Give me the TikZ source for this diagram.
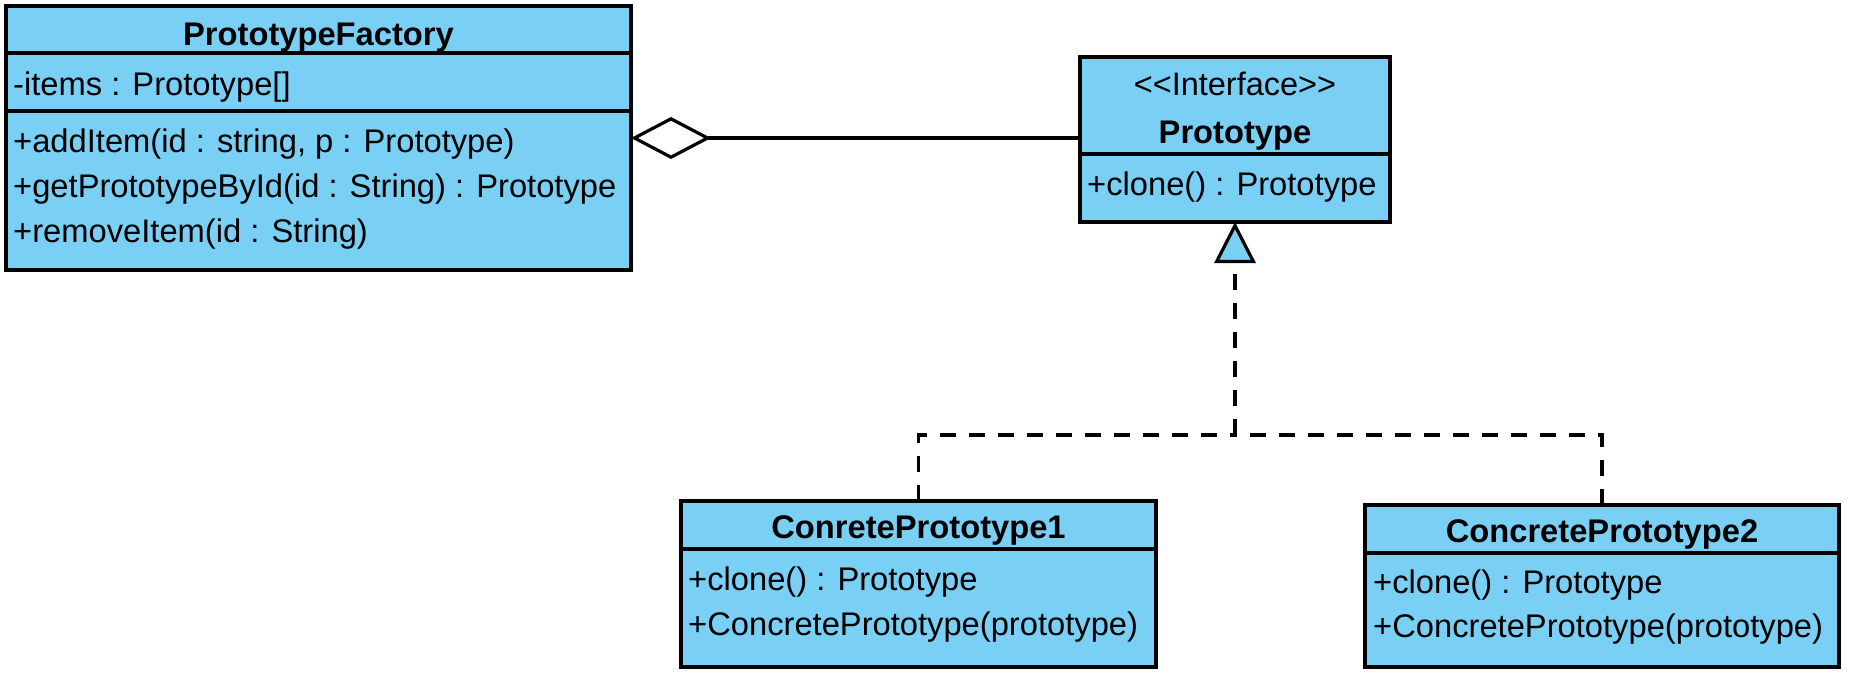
\documentclass[tikz,border=0pt]{standalone}
\usepackage{fontspec}
\setmainfont{Liberation Sans}
\usetikzlibrary{arrows.meta}
\definecolor{classblue}{RGB}{122,207,245}
\begin{document}
\begin{tikzpicture}[x=1pt,y=-1pt,
  classbox/.style={draw=black, fill=classblue, line width=3.2pt, inner sep=0pt, outer sep=0pt},
  sepline/.style={draw=black, line width=3.2pt},
  txt/.style={inner sep=0pt, anchor=base west, font=\fontsize{32.7}{40}\selectfont},
  ttl/.style={inner sep=0pt, anchor=base, font=\fontsize{32.7}{40}\selectfont\bfseries},
  stereo/.style={inner sep=0pt, anchor=base, font=\fontsize{32.5}{40}\selectfont},
  assoc/.style={draw=black, line width=3.2pt},
  dashline/.style={draw=black, line width=3.2pt, dash pattern=on 16pt off 13pt},
  realiz/.style={dashline, -{Triangle[length=41pt,width=41pt,fill=classblue]}}
]
\useasboundingbox (0,0) rectangle (1851,678);

% PrototypeFactory
\node[classbox, minimum width=625pt, minimum height=264pt] (pf) at (318.5,138) {};
\draw[sepline] (6,53) -- (631,53);
\draw[sepline] (6,111) -- (631,111);
\node[ttl] (pft) at (318.5,45) {PrototypeFactory};
\node[txt] (pfa) at (13,95) {-items : Prototype[]};
\node[txt] (pfm1) at (13,152) {+addItem(id : string, p : Prototype)};
\node[txt] (pfm2) at (13,197) {+getPrototypeById(id : String) : Prototype};
\node[txt] (pfm3) at (13,242) {+removeItem(id : String)};

% Prototype interface
\node[classbox, minimum width=310pt, minimum height=165pt] (pr) at (1235,139.5) {};
\draw[sepline] (1080,154) -- (1390,154);
\node[stereo] (prs) at (1235,95) {<\kern0pt<Interface>\kern0pt>};
\node[ttl] (prt) at (1235,143) {Prototype};
\node[txt] (prm1) at (1087,195) {+clone() : Prototype};

% ConretePrototype1
\node[classbox, minimum width=475pt, minimum height=166pt] (c1) at (918.5,584) {};
\draw[sepline] (681,549) -- (1156,549);
\node[ttl] (c1t) at (918.5,538) {ConretePrototype1};
\node[txt] (c1m1) at (688,590) {+clone() : Prototype};
\node[txt] (c1m2) at (688,635) {+ConcretePrototype(prototype)};

% ConcretePrototype2
\node[classbox, minimum width=474pt, minimum height=162pt] (c2) at (1602,586) {};
\draw[sepline] (1365,553) -- (1839,553);
\node[ttl] (c2t) at (1602,542) {ConcretePrototype2};
\node[txt] (c2m1) at (1373,593) {+clone() : Prototype};
\node[txt] (c2m2) at (1373,637) {+ConcretePrototype(prototype)};

% aggregation
\coordinate (ay) at (0,138);
\draw[assoc, {Diamond[open,length=80pt,width=42pt]}-] (pf.east |- ay) -- (pr.west |- ay);

% realization
\coordinate (jn) at (1235,435);
\draw[dashline] (c1.north) |- (jn);
\draw[dashline] (c2.north) |- (jn);
\draw[realiz] (jn) -- (pr.south);
\end{tikzpicture}
\end{document}
